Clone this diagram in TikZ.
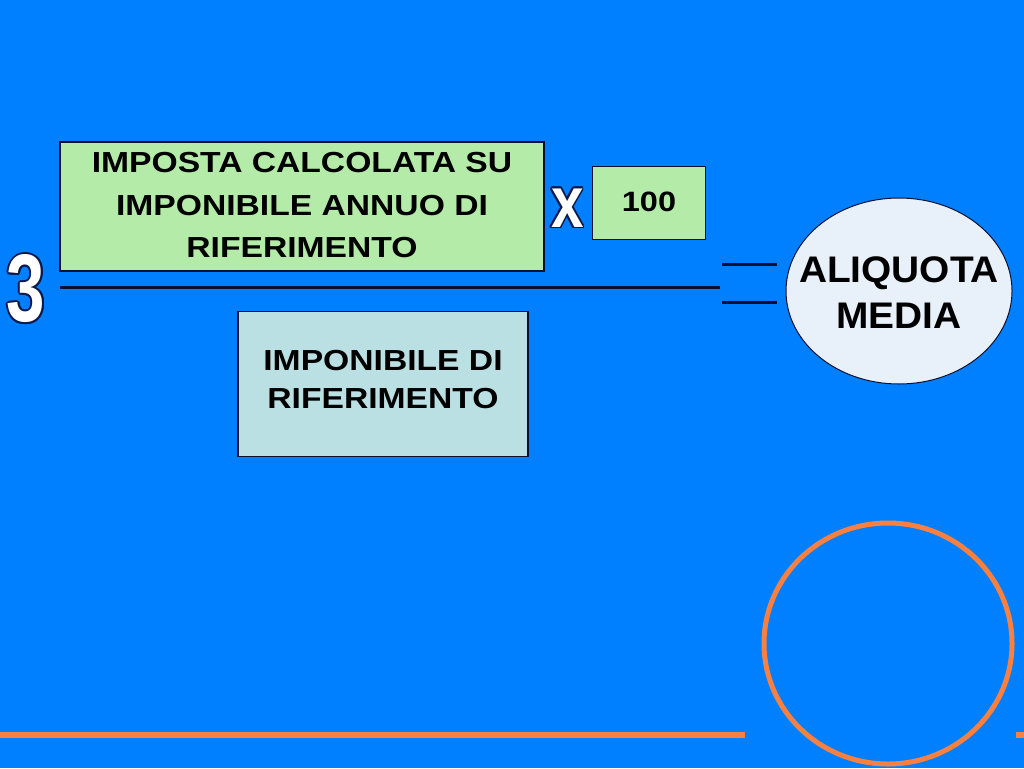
\documentclass[tikz,border=0pt]{standalone}
\usepackage{fontspec}
\usetikzlibrary{shapes.geometric,calc}
\newfontfamily\boxfont{Liberation Sans Bold}[FakeStretch=1.16]
\newfontfamily\ellfont{Liberation Sans Bold}[FakeStretch=1.05]
\newfontfamily\numfont{Liberation Sans Bold}[FakeStretch=0.72]
\newfontfamily\xfont{Liberation Sans Bold}[FakeStretch=0.8]
\definecolor{bg}{RGB}{0,128,255}
\definecolor{gbox}{RGB}{180,235,168}
\definecolor{bbox}{RGB}{186,224,228}
\definecolor{ell}{RGB}{232,240,250}
\definecolor{orng}{RGB}{250,128,64}
\definecolor{ink}{RGB}{8,16,48}
\definecolor{outl}{RGB}{10,26,74}
\tikzset{
  boxstyle/.style={draw=ink, line width=1.3pt, inner sep=0pt, align=center, text=black},
  rule/.style={draw=ink, line width=3pt},
  orangeline/.style={draw=orng, line width=6pt},
}
\begin{document}
\begin{tikzpicture}[x=1pt,y=-1pt]
\useasboundingbox (0,0) rectangle (1024,768);
\fill[bg] (0,0) rectangle (1024,768);
% green box
\node[boxstyle, fill=gbox, minimum width=484pt, minimum height=129pt,
  font=\boxfont\fontsize{29}{42.5}\selectfont, text depth=3pt] (imposta) at (302,206.5)
  {IMPOSTA CALCOLATA SU\\IMPONIBILE ANNUO DI\\RIFERIMENTO};
% 100 box
\node[boxstyle, fill=gbox, minimum width=113pt, minimum height=73pt,
  font=\boxfont\fontsize{28}{30}\selectfont, text depth=3pt] (cento) at (649,203) {100};
% blue box
\node[boxstyle, fill=bbox, minimum width=290pt, minimum height=145pt,
  font=\boxfont\fontsize{29}{38}\selectfont, text depth=9pt] (imponibile) at (383,384)
  {IMPONIBILE DI\\RIFERIMENTO};
% ellipse
\node[ellipse, draw=ink, line width=1pt, fill=ell, inner sep=0pt,
  minimum width=226pt, minimum height=186pt] (aliquota) at (899,291) {};
\node[inner sep=0pt, align=center, text=black,
  font=\ellfont\fontsize{37}{46}\selectfont] (aliqtext) at (899,293)
  {ALIQUOTA\\MEDIA};
% fraction line and equal sign
\coordinate (fracL) at (60,287);
\coordinate (fracR) at (720,287);
\draw[rule] (fracL) -- (fracR);
\coordinate (eqA1) at (722,264);
\coordinate (eqA2) at (777,264);
\coordinate (eqB1) at (722,302);
\coordinate (eqB2) at (777,302);
\draw[rule] (eqA1) -- (eqA2);
\draw[rule] (eqB1) -- (eqB2);
% outlined 3
\foreach \a in {0,30,...,330}
  \node[text=outl, inner sep=0pt, font=\numfont\fontsize{96}{96}\selectfont] at ($(26,289)+(\a:2)$) {3};
\node[text=white, inner sep=0pt, font=\numfont\fontsize{96}{96}\selectfont] (three) at (26,289) {3};
% outlined x
\foreach \a in {0,30,...,330}
  \node[text=outl, inner sep=0pt, font=\xfont\fontsize{73}{73}\selectfont] at ($(567.5,208)+(\a:1.6)$) {x};
\node[text=white, inner sep=0pt, font=\xfont\fontsize{73}{73}\selectfont] (times) at (567.5,208) {x};
% orange decoration
\coordinate (oL) at (0,735);
\coordinate (oM) at (745,735);
\coordinate (oR1) at (1016,735);
\coordinate (oR2) at (1024,735);
\draw[orangeline] (oL) -- (oM);
\draw[orangeline] (oR1) -- (oR2);
\draw[draw=orng, line width=5pt] (888,643.5) ellipse [x radius=124, y radius=120.5];
\end{tikzpicture}
\end{document}
